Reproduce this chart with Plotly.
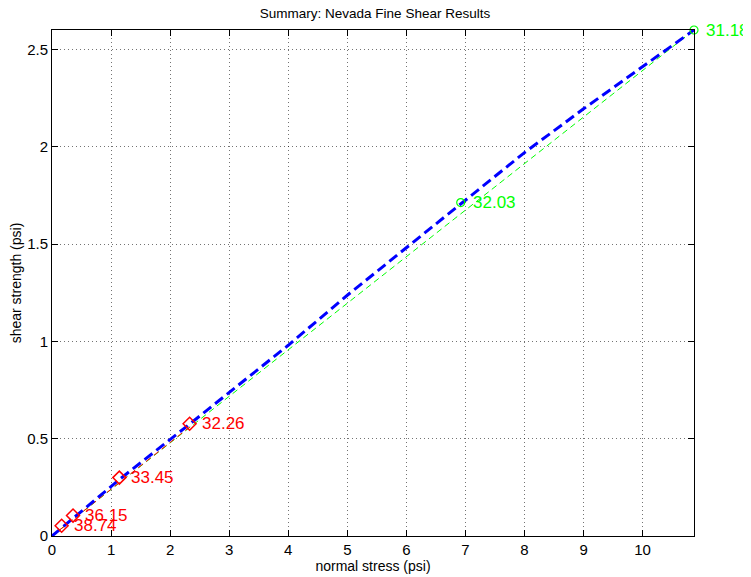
import plotly.graph_objects as go

# Data
red_stress = [0.163, 0.356, 1.14, 2.33]
red_strength = [0.053, 0.105, 0.300, 0.577]
red_labels = ["38.74", "36.15", "33.45", "32.26"]

green_stress = [6.92, 10.87]
green_strength = [1.713, 2.60]
green_labels = ["32.03", "31.18"]

fit_stress = [0, 1.14, 2.33, 4, 5, 6, 7, 8, 9, 10, 10.87]
fit_strength = [0, 0.29, 0.575, 0.98, 1.237, 1.483, 1.728, 1.97, 2.195, 2.41, 2.60]

red_line_stress = [0, 2.33]
red_line_strength = [0, 0.56]

green_line_stress = [0, 10.87]
green_line_strength = [0, 2.60]

x_ticks = list(range(0, 11))
y_ticks = [0, 0.5, 1, 1.5, 2, 2.5]
y_tick_text = ["0", "0.5", "1", "1.5", "2", "2.5"]

RED = "#ff0000"
GREEN = "#00ff00"
BLUE = "#0000ff"
FONT = "Liberation Sans, Arial, sans-serif"

fig = go.Figure()

fig.add_trace(go.Scatter(x=green_line_stress, y=green_line_strength, mode="lines",
                         line=dict(color=GREEN, width=1, dash="6px,4px"),
                         showlegend=False, hoverinfo="skip"))
fig.add_trace(go.Scatter(x=red_line_stress, y=red_line_strength, mode="lines",
                         line=dict(color=RED, width=1, dash="6px,4px"),
                         showlegend=False, hoverinfo="skip"))
fig.add_trace(go.Scatter(x=fit_stress, y=fit_strength, mode="lines",
                         line=dict(color=BLUE, width=3, dash="10px,5px"),
                         showlegend=False, hoverinfo="skip"))
fig.add_trace(go.Scatter(x=red_stress, y=red_strength, mode="markers",
                         marker=dict(symbol="diamond-open", size=10, color=RED,
                                     line=dict(width=1.5, color=RED)),
                         showlegend=False, cliponaxis=False))
fig.add_trace(go.Scatter(x=green_stress, y=green_strength, mode="markers",
                         marker=dict(symbol="circle-open", size=8, color=GREEN,
                                     line=dict(width=1.2, color=GREEN)),
                         showlegend=False, cliponaxis=False))

annotations = []
for xs, ys, labels, col in [(red_stress, red_strength, red_labels, RED),
                            (green_stress, green_strength, green_labels, GREEN)]:
    for xv, yv, t in zip(xs, ys, labels):
        annotations.append(dict(x=xv, y=yv, text=t, showarrow=False,
                                xanchor="left", yanchor="middle", xshift=10,
                                font=dict(color=col, size=17, family=FONT)))

axis_common = dict(showline=True, linecolor="black", linewidth=1, mirror="ticks",
                   ticks="inside", ticklen=6, tickcolor="black", tickwidth=1,
                   showgrid=True, gridcolor="rgba(0,0,0,0.55)", gridwidth=1,
                   griddash="1px,3px", zeroline=False, automargin=False,
                   tickfont=dict(size=15, family=FONT, color="black"))

# The page body adds an 8px offset, so margins compensate for it.
fig.update_layout(
    width=751, height=577,
    margin=dict(l=44, r=65, t=22, b=49),
    paper_bgcolor="white", plot_bgcolor="white",
    title=dict(text="Summary: Nevada Fine Shear Results", x=(375 - 8) / 751,
               xanchor="center", y=1 - 5 / 577, yanchor="middle", automargin=False,
               font=dict(size=13.5, family=FONT, color="black")),
    xaxis=dict(range=[0, 10.87], tickvals=x_ticks,
               title=dict(text="normal stress (psi)", standoff=4,
                          font=dict(size=14, family=FONT, color="black")),
               **axis_common),
    yaxis=dict(range=[0, 2.6], tickvals=y_ticks, ticktext=y_tick_text,
               title=dict(text="shear strength (psi)", standoff=6,
                          font=dict(size=14, family=FONT, color="black")),
               **axis_common),
    annotations=annotations,
)

fig.write_html("out.html")
